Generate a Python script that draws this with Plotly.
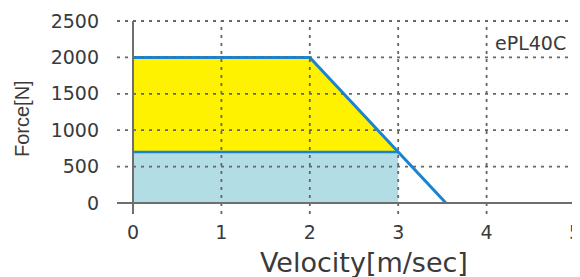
import plotly.graph_objects as go

# ---- data ----
velocity_ticks = [0, 1, 2, 3, 4, 5]
force_ticks = [0, 500, 1000, 1500, 2000, 2500]
curve_velocity = [0, 2, 3.54]
curve_force = [2000, 2000, 0]
rated_force = 700
rated_velocity = 3.0
model_label = "ePL40C"
x_title = "Velocity[m/sec]"
y_title = "Force[N]"

X_MAX = velocity_ticks[-1]
Y_MAX = force_ticks[-1]

# page body has a default 8px margin; compensate so the plot lands where intended
OFF = 8
W, H = 580, 277
PL, PT = 133, 21          # plot-area top-left on screen
PW, PH = 442, 182         # plot-area size
ML = PL - OFF
MT = PT - OFF
MR = W - ML - PW
MB = H - MT - PH

FONT = "DejaVu Sans"
TXT = "#3a3a3a"
GRID = "#666666"
AXIS = "#6e6e6e"
BLUE = "#1b84cf"
YELLOW = "#fff200"
CYAN = "#b2dde5"

fig = go.Figure()

# continuous (cyan) region
fig.add_trace(go.Scatter(
    x=[0, 0, rated_velocity, rated_velocity],
    y=[0, rated_force, rated_force, 0],
    fill="toself", fillcolor=CYAN, mode="none", hoverinfo="skip", showlegend=False))

# peak (yellow) region
fig.add_trace(go.Scatter(
    x=[0, curve_velocity[0], curve_velocity[1], rated_velocity],
    y=[rated_force, curve_force[0], curve_force[1], rated_force],
    fill="toself", fillcolor=YELLOW, mode="none", hoverinfo="skip", showlegend=False))

# rated force line
fig.add_trace(go.Scatter(
    x=[0, rated_velocity], y=[rated_force, rated_force],
    mode="lines", line=dict(color=BLUE, width=2.5), showlegend=False))

# peak curve
fig.add_trace(go.Scatter(
    x=curve_velocity, y=curve_force,
    mode="lines", line=dict(color=BLUE, width=3), showlegend=False))

shapes = []
ext_x = -16 / PW
ext_y = -11 / PH
for v in force_ticks[1:]:
    shapes.append(dict(type="line", xref="paper", yref="paper",
                       x0=ext_x, x1=1, y0=v / Y_MAX, y1=v / Y_MAX,
                       line=dict(color=GRID, width=1.8, dash="3px,5px"), layer="above"))
for v in velocity_ticks[1:]:
    shapes.append(dict(type="line", xref="paper", yref="paper",
                       x0=v / X_MAX, x1=v / X_MAX, y0=ext_y, y1=1,
                       line=dict(color=GRID, width=1.8, dash="3px,5px"), layer="above"))
# axis lines
shapes.append(dict(type="line", xref="paper", yref="paper",
                   x0=ext_x, x1=1, y0=0, y1=0, line=dict(color=AXIS, width=2), layer="above"))
shapes.append(dict(type="line", xref="paper", yref="paper",
                   x0=0, x1=0, y0=ext_y, y1=1, line=dict(color=AXIS, width=2), layer="above"))

annotations = [
    dict(text=model_label, x=4.92, y=2200, xref="x", yref="y", xanchor="right",
         yanchor="middle", showarrow=False, font=dict(family=FONT, size=19, color=TXT)),
    dict(text=x_title, x=(364 - PL) / PW, y=(PT + PH - 262) / PH, xref="paper", yref="paper",
         xanchor="center", yanchor="middle", showarrow=False,
         font=dict(family=FONT, size=27, color=TXT)),
    dict(text=y_title, x=(22 - PL) / PW, y=(PT + PH - 119) / PH, xref="paper", yref="paper",
         xanchor="center", yanchor="middle", showarrow=False, textangle=-90,
         font=dict(family="Liberation Sans", size=20, color=TXT)),
]

fig.update_layout(
    width=W, height=H,
    margin=dict(l=ML, r=MR, t=MT, b=MB, pad=0, autoexpand=False),
    paper_bgcolor="white", plot_bgcolor="white",
    shapes=shapes, annotations=annotations,
    xaxis=dict(range=[0, X_MAX], tickvals=velocity_ticks, ticktext=[str(v) for v in velocity_ticks],
               showgrid=False, zeroline=False, showline=False, ticks="", automargin=False,
               ticklabeloverflow="allow",
               ticklabelstandoff=16, tickfont=dict(family=FONT, size=19, color=TXT), fixedrange=True),
    yaxis=dict(range=[0, Y_MAX], tickvals=force_ticks, ticktext=[str(v) for v in force_ticks],
               showgrid=False, zeroline=False, showline=False, ticks="", automargin=False,
               ticklabelstandoff=33, tickfont=dict(family=FONT, size=19, color=TXT), fixedrange=True),
)

fig.write_html("out.html")
